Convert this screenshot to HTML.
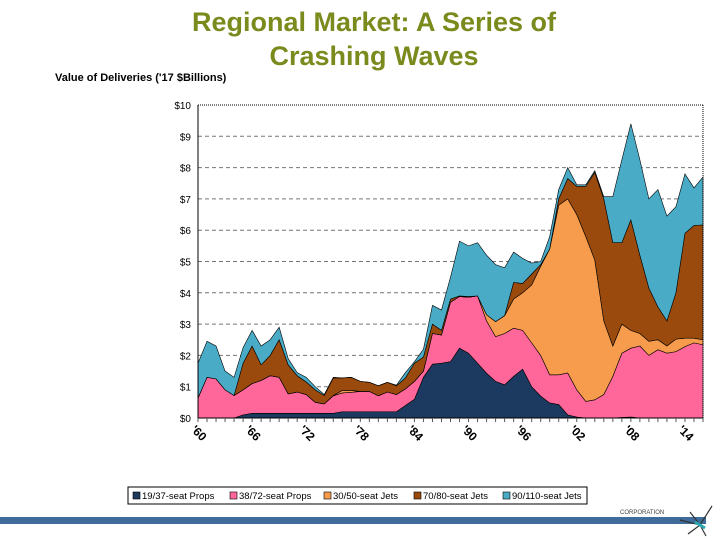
<!DOCTYPE html>
<html><head><meta charset="utf-8"><style>
body{margin:0;width:720px;height:540px;background:#fff;overflow:hidden;font-family:"Liberation Sans",Arial,sans-serif}
</style></head><body>
<svg id="chart" width="720" height="540" xmlns="http://www.w3.org/2000/svg" font-family="Liberation Sans, Arial, sans-serif">
<text x="374" y="31" text-anchor="middle" font-size="27" font-weight="bold" fill="#7b8a1c">Regional Market: A Series of</text>
<text x="374" y="65" text-anchor="middle" font-size="27" font-weight="bold" fill="#7b8a1c">Crashing Waves</text>
<text x="55" y="81" font-size="11" font-weight="bold">Value of Deliveries ('17 $Billions)</text>
<g id="grid"></g><g id="areas"></g><g id="axes"></g>
<g>
<rect x="128" y="487" width="459" height="17" fill="#fff" stroke="#000" stroke-width="1"/>
<g id="legend"></g></g>
<rect x="0" y="517" width="706" height="7" fill="#3f6c9b"/>
<text x="620" y="514" font-size="6" fill="#444">CORPORATION</text>
<g stroke="#333" fill="none" stroke-width="1.2">
<path d="M680 520 L700 525 L712 506 M688 534 L700 525 L706 536 M690 512 L700 525"/><path d="M695 522 L705 528" stroke="#2aa7b0" stroke-width="3"/></g>
</svg>
<script>
const years=[];for(let y=1960;y<=2016;y++)years.push(y);
const props1937=[0,0,0,0,0,.1,.15,.15,.15,.15,.15,.15,.15,.15,.15,.15,.2,.2,.2,.2,.2,.2,.2,.4,.6,1.3,1.72,1.75,1.8,2.23,2.07,1.75,1.43,1.17,1.06,1.33,1.56,1.0,.7,.48,.43,.1,.03,0,0,0,0,.02,.03,0,0,0,0,0,0,0,0];
const props3872=[.64,1.3,1.25,.9,.72,.8,.95,1.05,1.2,1.15,.62,.68,.6,.35,.3,.56,.6,.62,.65,.65,.51,.63,.55,.53,.57,.2,.98,.9,1.9,1.65,1.79,2.15,1.67,1.43,1.64,1.54,1.24,1.4,1.3,.9,.95,1.34,.87,.53,.58,.75,1.33,2.05,2.2,2.3,2.0,2.18,2.07,2.12,2.28,2.4,2.34];
const jets3050=[0,0,0,0,0,0,0,0,0,0,0,0,0,0,0,.01,.08,.06,0,0,0,0,0,0,0,0,0,0,0,0,0,0,.2,.48,.57,.93,1.2,1.85,2.85,4.02,5.42,5.56,5.6,5.27,4.47,2.35,.97,.93,.57,.4,.45,.32,.23,.4,.27,.15,.16];
const jets7080=[0,0,0,0,0,.85,1.2,.5,.65,1.2,.93,.52,.4,.4,.27,.56,.4,.42,.32,.29,.32,.31,.28,.35,.58,.45,.3,.15,.1,.02,.02,0,0,0,0,.53,.3,.35,.05,0,.2,.65,.9,1.6,2.8,3.9,3.3,2.6,3.53,2.5,1.7,1.05,.8,1.48,3.35,3.6,3.67];
const jets90110=[1.11,1.15,1.05,.6,.58,.5,.5,.6,.5,.4,.2,.1,.15,.1,.03,.02,0,0,0,0,0,0,.02,.17,.05,.25,.6,.65,.7,1.75,1.62,1.7,1.9,1.82,1.53,.97,.8,.35,.1,.4,.3,.35,.05,.05,.05,.07,1.47,2.65,3.07,3.05,2.85,3.75,3.35,2.75,1.9,1.2,1.53];
const seriesNames=["19/37-seat Props","38/72-seat Props","30/50-seat Jets","70/80-seat Jets","90/110-seat Jets"];
const yTicks=[0,1,2,3,4,5,6,7,8,9,10];
const xTickYears=[1960,1966,1972,1978,1984,1990,1996,2002,2008,2014];
const colors=["#1c3a5f","#ff6699","#f79b4c","#9a4a0d","#4aabc6"];
const X0=198,X1=703,Y0=418,Y1=105;
const x=y=>X0+(y-1960)*(X1-X0)/(2016-1960);
const yv=v=>Y0-v*(Y0-Y1)/10;
const NS="http://www.w3.org/2000/svg";
function mk(tag,attrs,parent,txt){const e=document.createElementNS(NS,tag);for(const k in attrs)e.setAttribute(k,attrs[k]);if(txt!==undefined)e.textContent=txt;parent.appendChild(e);return e;}
const grid=document.getElementById('grid'),areas=document.getElementById('areas'),axes=document.getElementById('axes'),legend=document.getElementById('legend');
yTicks.forEach(t=>{
 const l=mk('line',{x1:X0,x2:X1,y1:yv(t),y2:yv(t),stroke:t==10?'#000':'#777','stroke-dasharray':t==10?'1,1':'4,3','stroke-width':1},grid);
 
 
 const tx=mk('text',{x:191,y:yv(t)+4,'text-anchor':'end','font-size':10},axes,'$'+t);
 
 
});
const series=[props1937,props3872,jets3050,jets7080,jets90110];
let base=years.map(()=>0);
series.forEach((s,i)=>{
 const top=base.map((b,j)=>b+s[j]);
 let d='M'+years.map((y,j)=>x(y)+','+yv(top[j])).join(' L');
 for(let j=years.length-1;j>=0;j--)d+=' L'+x(years[j])+','+yv(base[j]);
 const p=mk('path',{d:d+'Z',fill:colors[i],stroke:'#000','stroke-width':0.6},areas);
 
 
 base=top;
});
mk('line',{x1:X0,x2:X0,y1:Y1,y2:Y0,stroke:'#000'},axes);
mk('line',{x1:X0,x2:X1,y1:Y0,y2:Y0,stroke:'#000'},axes);
mk('line',{x1:X1,x2:X1,y1:Y1,y2:Y0,stroke:'#000','stroke-dasharray':'1,1'},axes);
years.forEach(y=>{mk('line',{x1:x(y),x2:x(y),y1:Y0,y2:Y0+4,stroke:'#555'},axes);});
xTickYears.forEach(y=>{
 const tx=mk('text',{x:0,y:0,'font-size':12,'font-weight':'bold','text-anchor':'middle',transform:`translate(${x(y)-2},${Y0+18}) rotate(45)`},axes,"'"+String(y).slice(2));
 
 
});
let lx=133;
const widths=[97,94,90,89,86];
seriesNames.forEach((n,i)=>{
 const g=mk('g',{},legend);
 
 
 mk('rect',{x:lx,y:492,width:7,height:7,fill:colors[i],stroke:'#000','stroke-width':0.6},g);
 mk('text',{x:lx+9,y:499,'font-size':9.5},g,n);
 lx+=widths[i];
});
</script>
</body></html>
